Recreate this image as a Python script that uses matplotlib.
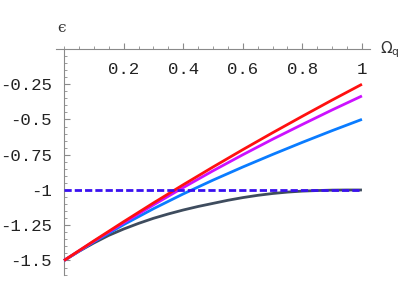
import matplotlib
matplotlib.use("Agg")
import matplotlib.pyplot as plt
from matplotlib.ticker import MultipleLocator, FixedLocator

x = [0.0, 0.1, 0.2, 0.3, 0.4, 0.5, 0.6, 0.7, 0.8, 0.9, 1.0]
red = [-1.5, -1.361, -1.225, -1.092, -0.963, -0.837, -0.714, -0.594, -0.477, -0.362, -0.25]
magenta = [-1.5, -1.364, -1.233, -1.106, -0.983, -0.864, -0.750, -0.640, -0.535, -0.432, -0.333]
blue = [-1.5, -1.368, -1.246, -1.133, -1.028, -0.930, -0.837, -0.748, -0.662, -0.579, -0.499]
x_gray = [0.0, 0.05, 0.1, 0.15, 0.2, 0.25, 0.3, 0.35, 0.4, 0.45, 0.5,
          0.55, 0.6, 0.65, 0.7, 0.75, 0.8, 0.85, 0.9, 0.95, 1.0]
gray = [-1.5, -1.435, -1.376, -1.322, -1.277, -1.237, -1.201, -1.170, -1.142, -1.117, -1.095,
        -1.073, -1.054, -1.038, -1.025, -1.015, -1.008, -1.004, -1.001, -1.0, -1.0]
dashed_x = [0.0, 1.0]
dashed = [-1.0, -1.0]

xticks = [0.2, 0.4, 0.6, 0.8, 1.0]
xticklabels = ["0.2", "0.4", "0.6", "0.8", "1"]
yticks = [-1.5, -1.25, -1.0, -0.75, -0.5, -0.25]
yticklabels = ["-1.5", "-1.25", "-1", "-0.75", "-0.5", "-0.25"]

W, H = 402, 291
fig = plt.figure(figsize=(W / 100, H / 100), dpi=100)
l, r, t, b = 56, 370, 49, 275
ax = fig.add_axes([l / W, (H - b) / H, (r - l) / W, (b - t) / H])
ax.set_xlim(-0.027, 1.027)
ax.set_ylim(-1.603, 0.0)

lw = 2.0
ax.plot(x_gray, gray, color="#3e4c5e", lw=lw, solid_capstyle="butt", zorder=3)
ax.plot(x, blue, color="#0a7cff", lw=lw, solid_capstyle="butt", zorder=4)
ax.plot(x, magenta, color="#cc11ff", lw=lw, solid_capstyle="butt", zorder=5)
ax.plot(x, red, color="#ff1010", lw=lw, solid_capstyle="butt", zorder=6)
ax.plot(dashed_x, dashed, color="#3a10f0", lw=lw, dashes=(2.6, 1.1), zorder=7)

for s in ["right", "top"]:
    ax.spines[s].set_visible(False)
ax.spines["bottom"].set_position(("data", 0))
ax.spines["left"].set_position(("data", 0))
for s in ["bottom", "left"]:
    ax.spines[s].set_color("#8a8a8a")
    ax.spines[s].set_linewidth(0.8)
ax.spines["left"].set_bounds(-1.603, 0.0)

ax.xaxis.set_major_locator(FixedLocator(xticks))
ax.set_xticklabels(xticklabels)
ax.yaxis.set_major_locator(FixedLocator(yticks))
ax.set_yticklabels(yticklabels)
ax.xaxis.set_minor_locator(MultipleLocator(0.05))
ax.yaxis.set_minor_locator(MultipleLocator(0.05))

for lab in ax.get_xticklabels() + ax.get_yticklabels():
    lab.set_fontfamily("Liberation Mono")
    lab.set_fontsize(12.5)
    lab.set_color("#222222")

ax.tick_params(axis="x", which="major", direction="in", length=4, width=0.8, color="#8a8a8a", pad=9)
ax.tick_params(axis="x", which="minor", direction="in", length=2.2, width=0.6, color="#8a8a8a")
ax.tick_params(axis="y", which="major", direction="in", length=4, width=0.8, color="#8a8a8a", pad=9)
ax.tick_params(axis="y", which="minor", direction="in", length=2.2, width=0.6, color="#8a8a8a")
ax.patch.set_visible(False)

fig.text(62 / W, 1 - 28 / H, "\u03f5", ha="center", va="center", fontsize=11,
         family="DejaVu Serif", color="#333333")
fig.text(380 / W, 1 - 50 / H, r"$\Omega_{\mathrm{q}}$", ha="left", va="center", fontsize=11,
         color="#333333")

fig.savefig("out.png", dpi=100)
